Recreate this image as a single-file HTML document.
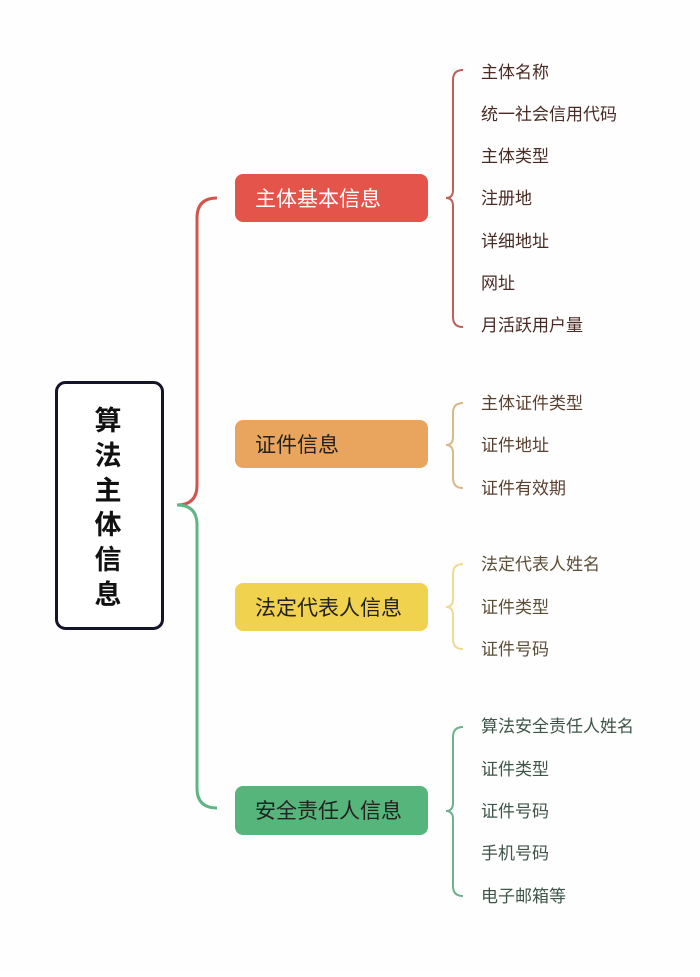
<!DOCTYPE html>
<html><head><meta charset="utf-8"><style>
body{margin:0;background:#fff;}
svg text{font-family:"Liberation Sans","Noto Sans CJK SC",sans-serif;}
</style></head><body>
<svg width="700" height="972" viewBox="0 0 700 972" xmlns="http://www.w3.org/2000/svg">
<rect width="700" height="972" fill="#fefefe"/>
<rect x="56.5" y="382.5" width="106" height="246" rx="9" fill="#fff" stroke="#14142a" stroke-width="3"/>
<g font-size="27" font-weight="bold" fill="#111" text-anchor="middle">
<text x="108" y="430">算</text><text x="108" y="465">法</text><text x="108" y="500">主</text>
<text x="108" y="534">体</text><text x="108" y="569">信</text><text x="108" y="604">息</text>
</g>
<path d="M177 505 Q197 505 197 485 L197 218 Q197 198 217 198" fill="none" stroke="#d0554c" stroke-width="3"/>
<path d="M177 505 Q197 505 197 525 L197 788 Q197 808 217 808" fill="none" stroke="#5fb585" stroke-width="3"/>
<rect x="235" y="174" width="193" height="48" rx="8" fill="#e5544a"/>
<rect x="235" y="420" width="193" height="48" rx="8" fill="#e9a55d"/>
<rect x="235" y="583" width="193" height="48" rx="8" fill="#f0d24f"/>
<rect x="235" y="786" width="193" height="49" rx="8" fill="#56b57a"/>
<g font-size="21">
<text x="255" y="206" fill="#fff">主体基本信息</text>
<text x="255" y="452" fill="#222">证件信息</text>
<text x="255" y="615" fill="#222">法定代表人信息</text>
<text x="255" y="818" fill="#222">安全责任人信息</text>
</g>
<g fill="none" stroke-width="2">
<path d="M463 70 Q453 70 453 80 L453 190 Q453 198 446 198 Q453 198 453 206 L453 317 Q453 327 463 327" stroke="#c0605a"/>
<path d="M463 403 Q453 403 453 413 L453 437 Q453 445 446 445 Q453 445 453 453 L453 478 Q453 488 463 488" stroke="#d9b88a"/>
<path d="M463 564 Q453 564 453 574 L453 599 Q453 607 446 607 Q453 607 453 615 L453 639 Q453 649 463 649" stroke="#ecdc96"/>
<path d="M463 727 Q453 727 453 737 L453 803 Q453 811 446 811 Q453 811 453 819 L453 886 Q453 896 463 896" stroke="#6fb090"/>
</g>
<g font-size="17">
<g fill="#4a2a24">
<text x="481" y="78">主体名称</text><text x="481" y="120">统一社会信用代码</text><text x="481" y="162">主体类型</text>
<text x="481" y="204">注册地</text><text x="481" y="247">详细地址</text><text x="481" y="289">网址</text><text x="481" y="331">月活跃用户量</text>
</g>
<g fill="#5a4030">
<text x="481" y="409">主体证件类型</text><text x="481" y="451">证件地址</text><text x="481" y="494">证件有效期</text>
</g>
<g fill="#5a4e36">
<text x="481" y="570">法定代表人姓名</text><text x="481" y="613">证件类型</text><text x="481" y="655">证件号码</text>
</g>
<g fill="#3e5548">
<text x="481" y="732">算法安全责任人姓名</text><text x="481" y="775">证件类型</text><text x="481" y="817">证件号码</text>
<text x="481" y="859">手机号码</text><text x="481" y="902">电子邮箱等</text>
</g>
</g>
</svg>
</body></html>
